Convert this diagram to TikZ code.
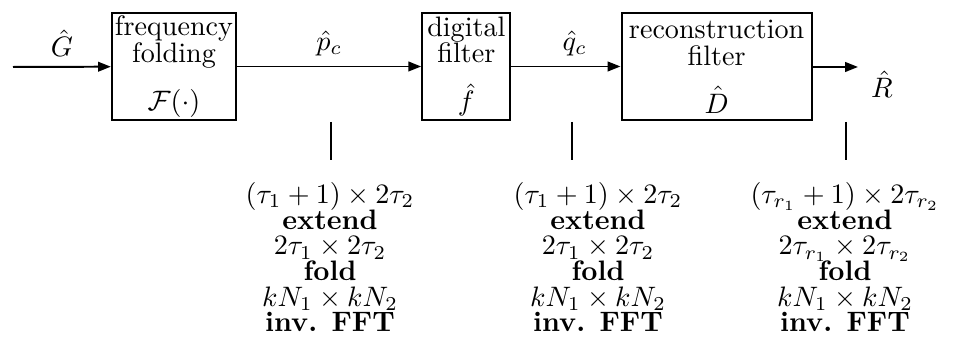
\documentclass[tikz,border=0pt]{standalone}
\usepackage{amsmath}
\usepackage{amssymb}
\usetikzlibrary{%
	arrows.meta,%
	positioning,%
}
\tikzset{
	>={Triangle[length=1.6mm, width=1.2mm]},%
	nodes={align=center},%
	block/.style={%
			draw,%
			rectangle,%
			thick,%
			inner sep=0,%
			minimum height=1.3375cm,%
			font={\fontsize{10}{9.5}\selectfont}},%
	signal/.style={%
			->,%
			line width=0.7pt},%
	tickline/.style={%
			line width=0.6pt},%
	info/.style={%
			anchor=north,%
			inner sep=0,%
			font={\fontsize{10}{9.1}\selectfont\lineskiplimit=-10pt}},%
}

\begin{document}
\begin{tikzpicture}[x=0.0125cm, y=-0.0125cm]%
	\useasboundingbox (0,0) rectangle (954,339);

	\node[block, minimum width=1.55cm] (folding) at (174,66.5) {frequency\\folding\\[1.5ex]$\mathcal{F}(\cdot)$};
	\node[block, minimum width=1.1cm, right=2.3cm of folding] (digital) {digital\\filter\\[1.5ex]$\hat{f}$};
	\node[block, minimum width=2.375cm, right=1.3625cm of digital] (recon) {reconstruction\\filter\\[1.5ex]$\hat{D}$};

	\coordinate (gin) at (13,67);
	\coordinate (rout) at (858,67);
	\node (rhat) at (882,84) {$\hat{R}$};

	\draw[signal] (gin) -- node[above] {$\hat{G}$} (folding);
	\draw[signal] (folding) -- node[above] {$\hat{p}_c$} (digital);
	\draw[signal] (digital) -- node[above, pos=0.58] {$\hat{q}_c$} (recon);
	\draw[signal] (recon.east |- rout) -- (rout);

	\coordinate (ptick) at (331,122);
	\coordinate (qtick) at (572,122);
	\coordinate (rtick) at (846,122);
	\draw[tickline] (ptick) -- ++(0,38);
	\draw[tickline] (qtick) -- ++(0,38);
	\draw[tickline] (rtick) -- ++(0,38);

	\node[info] (pinfo) at (330,182) {$(\tau_1+1)\times 2\tau_2$\\\textbf{extend}\\$2\tau_1\times 2\tau_2$\\\textbf{fold}\\$kN_1\times kN_2$\\\textbf{inv. FFT}};
	\node[info] (qinfo) at (598,182) {$(\tau_1+1)\times 2\tau_2$\\\textbf{extend}\\$2\tau_1\times 2\tau_2$\\\textbf{fold}\\$kN_1\times kN_2$\\\textbf{inv. FFT}};
	\node[info] (rinfo) at (845,182) {$(\tau_{r_1}+1)\times 2\tau_{r_2}$\\\textbf{extend}\\$2\tau_{r_1}\times 2\tau_{r_2}$\\\textbf{fold}\\$kN_1\times kN_2$\\\textbf{inv. FFT}};
\end{tikzpicture}
\end{document}
